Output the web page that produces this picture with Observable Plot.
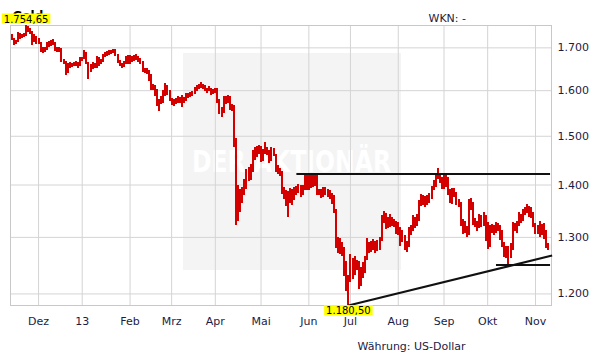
<!DOCTYPE html>
<html>
<head>
<meta charset="utf-8">
<script src="https://cdn.jsdelivr.net/npm/d3@7"></script>
<script src="https://cdn.jsdelivr.net/npm/@observablehq/plot@0.6"></script>
<style>
  html, body { margin: 0; padding: 0; background: #fff; }
  #chart { width: 611px; height: 364px; position: relative; }
</style>
</head>
<body>
<div id="chart"></div>
<script>
// ---- data (USD per troy ounce, daily high / low, 14.11.2012 - 11.11.2013, weekdays) ----
const firstDay = "2012-11-14";
const lastAxisDay = "2013-11-13";

const high = [
  // Nov 2012
  1732,1722,1718,1738,1735,1733,1735,1754.65,1752,1748,1740,1732,1728,
  // Dez
  1722,1712,1700,1702,1712,1716,1719,1720,1712,1702,1700,1698,1672,1668,1662,1664,1662,1665,1668,1664,1676,
  // Jan 2013
  1678,1694,1690,1666,1660,1664,1662,1680,1678,1672,1684,1688,1692,1694,1694,1696,1697,1684,1670,1662,1668,1680,1682,
  // Feb
  1682,1680,1682,1684,1680,1674,1668,1652,1652,1646,1636,1614,1612,1602,1580,1586,1600,1616,1612,1600,
  // Mrz
  1582,1580,1582,1586,1584,1590,1584,1594,1594,1596,1598,1608,1612,1614,1618,1614,1612,1606,1610,1604,1602,
  // Apr
  1606,1604,1580,1562,1586,1586,1590,1588,1570,1566,1496,1400,1392,1396,1410,1432,1436,1442,1470,1476,1478,1480,
  // Mai
  1478,1472,1487,1476,1470,1476,1474,1462,1440,1434,1428,1396,1390,1388,1394,1392,1396,1398,1402,1400,1400,1418,1420,
  // Jun
  1424,1418,1424,1422,1418,1392,1392,1396,1396,1392,1390,1384,1380,1352,1300,1298,1290,1282,1256,1232,
  // Jul
  1268,1262,1266,1258,1256,1246,1254,1266,1298,1290,1292,1296,1292,1294,1300,1340,1348,1344,1338,1342,1338,1334,1330,
  // Aug
  1328,1318,1312,1304,1292,1318,1322,1340,1338,1342,1370,1382,1380,1378,1380,1384,1398,1408,1424,1433,1420,1414,
  // Sep
  1418,1422,1414,1392,1394,1394,1386,1372,1366,1334,1330,1320,1372,1374,1366,1336,1330,1342,1340,1346,1340,
  // Okt
  1328,1322,1324,1322,1328,1326,1322,1312,1290,1284,1284,1288,1328,1326,1330,1346,1342,1352,1356,1362,1358,1356,1346,
  // Nov
  1326,1322,1330,1324,1326,1312,1288
];
const low = [
  // Nov 2012
  1718,1705,1708,1712,1720,1722,1726,1728,1738,1732,1705,1712,1708,
  // Dez
  1708,1688,1686,1690,1694,1702,1704,1706,1692,1690,1690,1665,1660,1635,1640,1652,1654,1655,1656,1652,1656,
  // Jan 2013
  1668,1672,1660,1626,1642,1648,1650,1652,1656,1660,1664,1676,1680,1682,1684,1686,1680,1662,1656,1652,1654,1660,1660,
  // Feb
  1660,1664,1668,1670,1664,1660,1642,1640,1636,1620,1600,1600,1586,1564,1554,1570,1572,1586,1590,1576,
  // Mrz
  1566,1564,1570,1572,1572,1562,1572,1576,1582,1584,1586,1592,1598,1602,1604,1602,1598,1594,1598,1590,1592,
  // Apr
  1594,1572,1546,1540,1550,1568,1572,1556,1554,1476,1322,1330,1346,1364,1380,1392,1406,1408,1426,1450,1456,1462,
  // Mai
  1446,1448,1462,1460,1444,1448,1458,1426,1420,1416,1382,1372,1358,1338,1364,1360,1370,1380,1384,1376,1380,1390,1390,
  // Jun
  1390,1394,1396,1398,1380,1380,1374,1376,1380,1376,1372,1362,1345,1280,1270,1268,1266,1230,1204,1180.5,
  // Jul
  1220,1225,1232,1240,1208,1212,1226,1236,1258,1270,1272,1276,1270,1274,1276,1292,1326,1314,1316,1318,1320,1318,1306,
  // Aug
  1304,1284,1290,1276,1272,1282,1304,1310,1316,1320,1330,1358,1360,1356,1360,1364,1372,1390,1396,1410,1404,1392,
  // Sep
  1392,1396,1380,1364,1362,1376,1360,1356,1320,1306,1308,1300,1304,1350,1322,1318,1310,1316,1318,1320,1292,
  // Okt
  1277,1282,1308,1304,1308,1310,1294,1282,1264,1262,1251,1262,1276,1310,1308,1320,1326,1330,1340,1344,1338,1336,1318,
  // Nov
  1306,1306,1300,1304,1296,1280,1276
];

const monthTickDays = ["2012-12-03","2013-01-01","2013-02-01","2013-03-01","2013-04-01","2013-05-01",
                       "2013-06-03","2013-07-01","2013-08-01","2013-09-02","2013-10-01","2013-11-01"];
const monthLabels = ["Dez","13","Feb","Mrz","Apr","Mai","Jun","Jul","Aug","Sep","Okt","Nov"];

const yTicks = [1200, 1300, 1400, 1500, 1600, 1700];
const yTickLabels = ["1.200","1.300","1.400","1.500","1.600","1.700"];

const maxLabel = {day: "2012-11-23", value: 1754.65, text: "1.754,65"};
const minLabel = {day: "2013-06-28", value: 1180.5, text: "1.180,50"};

const resistanceLine = {from: "2013-05-24", to: "2013-11-12", value: 1422};
const supportLine = {from: "2013-10-07", to: "2013-11-12", value: 1250};
const trendLine = {from: "2013-06-28", fromValue: 1180.5, to: "2013-11-13", toValue: 1267};

const titleText = "Gold";
const wknText = "WKN: -";
const currencyText = "Währung: US-Dollar";
const watermarkText = "DER AKTIONÄR";

// ---- trading-day index (weekdays) ----
const fmt = d3.utcFormat("%Y-%m-%d");
const days = d3.utcDay.range(new Date(firstDay + "T00:00Z"), d3.utcDay.offset(new Date(lastAxisDay + "T00:00Z"), 1))
  .filter(d => d.getUTCDay() !== 0 && d.getUTCDay() !== 6);
const idx = new Map(days.map((d, i) => [fmt(d), i]));

const bars = high.map((h, i) => ({i, high: h, low: low[i]}));
const monthTicks = monthTickDays.map(d => idx.get(d));
const monthLabelOf = new Map(monthTicks.map((t, k) => [t, monthLabels[k]]));
const yLabelOf = new Map(yTicks.map((t, k) => [t, yTickLabels[k]]));

const hLines = [resistanceLine, supportLine].map(l => ({x1: idx.get(l.from), x2: idx.get(l.to), y1: l.value, y2: l.value}));
const tLines = [{x1: idx.get(trendLine.from), x2: idx.get(trendLine.to), y1: trendLine.fromValue, y2: trendLine.toValue}];

const labels = [maxLabel, minLabel].map(l => ({x: idx.get(l.day), y: l.value, text: l.text}));

const gridColor = "#d4d4d4";
const textColor = "#1c1c44";

const plot = Plot.plot({
  width: 611,
  height: 364,
  marginLeft: 10,
  marginRight: 60,
  marginTop: 25,
  marginBottom: 59,
  style: {fontFamily: "DejaVu Sans", fontSize: "11px", background: "transparent", overflow: "visible"},
  x: {type: "linear", domain: [-0.5, 259.7], axis: null},
  y: {type: "log", domain: [1180.5, 1754.65], axis: null},
  marks: [
    Plot.ruleX(monthTicks, {x: d => d, stroke: gridColor, strokeWidth: 1}),
    Plot.ruleY(yTicks, {y: d => d, stroke: gridColor, strokeWidth: 1}),
    Plot.frame({stroke: "#c8c8c8"}),
    Plot.axisX(monthTicks, {tickSize: 0, tickPadding: 12, tickFormat: d => monthLabelOf.get(d), fill: textColor, fontSize: 11}),
    Plot.axisY(yTicks, {anchor: "right", tickSize: 0, tickPadding: 6, tickFormat: d => yLabelOf.get(d), fill: textColor, fontSize: 11}),
    Plot.ruleX(bars, {x: "i", y1: "low", y2: "high", stroke: "#d40000", strokeWidth: 2, shapeRendering: "crispEdges"}),
    Plot.link(hLines, {x1: "x1", x2: "x2", y1: "y1", y2: "y2", stroke: "#111", strokeWidth: 2}),
    Plot.link(tLines, {x1: "x1", x2: "x2", y1: "y1", y2: "y2", stroke: "#111", strokeWidth: 2}),
    Plot.text([titleText], {frameAnchor: "top-left", dx: 2, dy: -14, text: d => d, textAnchor: "start", fontWeight: "bold", fontSize: 12, fill: "#000"}),
    Plot.text(labels.slice(0, 1), {x: "x", y: "y", text: "text", lineAnchor: "bottom", dy: -3, fontSize: 10, fill: "#000", className: "ylabel"}),
    Plot.text(labels.slice(1), {x: "x", y: "y", text: "text", lineAnchor: "top", dy: 1.5, fontSize: 10, fill: "#000", className: "ylabel"}),
    Plot.text([wknText], {frameAnchor: "top-left", dx: 418, dy: -11, text: d => d, textAnchor: "start", fill: textColor, fontSize: 11}),
    Plot.text([currencyText], {frameAnchor: "bottom-left", dx: 347, dy: 44, text: d => d, textAnchor: "start", fill: textColor, fontSize: 11})
  ]
});

document.getElementById("chart").appendChild(plot);

// watermark (decoration behind the grid)
const svg = d3.select(plot);
const wm = svg.insert("g", "g").attr("class", "watermark");
wm.append("rect").attr("x", 183).attr("y", 53).attr("width", 218).attr("height", 217).attr("fill", "#f4f4f4");
wm.append("text").attr("x", 192).attr("y", 172).attr("text-anchor", "start")
  .attr("textLength", 199).attr("lengthAdjust", "spacingAndGlyphs")
  .attr("font-family", "DejaVu Sans Condensed, DejaVu Sans").attr("font-weight", "bold").attr("font-size", 30)
  .attr("fill", "#ffffff").text(watermarkText);

// yellow boxes behind the extreme-value labels
svg.selectAll("g.ylabel text").each(function() {
  const b = this.getBBox();
  d3.select(this.parentNode).insert("rect", "text")
    .attr("transform", this.getAttribute("transform"))
    .attr("x", b.x - 2).attr("y", b.y).attr("width", b.width + 4).attr("height", b.height - 1)
    .attr("fill", "#ffff00");
});
</script>
</body>
</html>
